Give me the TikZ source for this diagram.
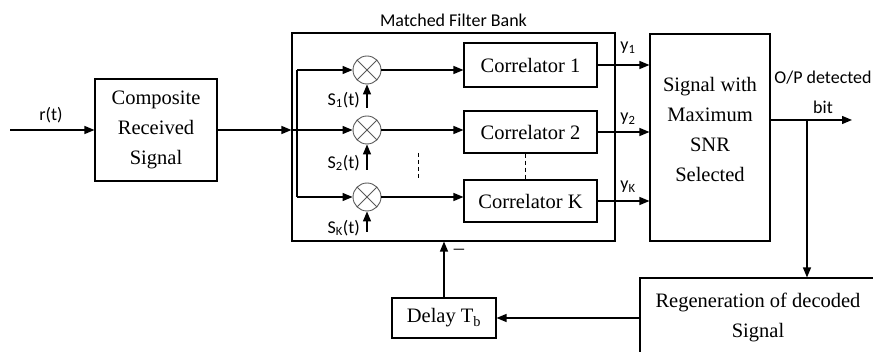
\documentclass[tikz,border=0pt]{standalone}
\usepackage{fontspec}
\setmainfont{Liberation Serif}
\newfontfamily\lblfont{Carlito}
\usetikzlibrary{arrows.meta,positioning}

\begin{document}
\begin{tikzpicture}[x=1pt, y=-1pt,
  box/.style={draw, line width=1.1pt, align=center, inner sep=0pt,
    font=\fontsize{20.5}{30}\selectfont},
  lbl/.style={font=\lblfont\fontsize{18}{30}\selectfont, inner sep=1pt},
  wire/.style={line width=1.3pt},
  arr/.style={wire, -{Triangle[length=10pt,width=8pt]}},
  dotline/.style={line width=1pt, dash pattern=on 4pt off 3pt},
  mixer/.style={circle, draw=black!65, line width=0.9pt, minimum size=28pt,
    inner sep=0pt,
    path picture={\draw[black!65, line width=0.9pt]
      (path picture bounding box.north west) -- (path picture bounding box.south east)
      (path picture bounding box.north east) -- (path picture bounding box.south west);}},
]
\useasboundingbox (0,0) rectangle (873,352);
\clip (0,0) rectangle (873,352);

% ── Entrada ───────────────────────────────────────────────────
\coordinate (rin) at (10,130);
\node[box, minimum width=122pt, minimum height=102pt] (comp) at (156,130)
    {Composite\\Received\\Signal};
\node[lbl] (rlbl) at (51,115) {r(t)};
\draw[arr] (rin) -- (comp);

% ── Banco de filtros ──────────────────────────────────────────
\node[draw, line width=1.1pt, minimum width=323pt, minimum height=208pt,
      inner sep=0pt] (bank) at (453.5,137) {};
\node[lbl, above=5pt of bank] (title) {Matched Filter Bank};

\coordinate (split) at (297,130);
\draw[arr]  (comp.east) -- (comp.east -| bank.west);
\draw[wire] (comp.east -| bank.west) -- (split);

% multiplicadores
\node[mixer] (m1) at (367,70)  {};
\node[mixer] (m2) at (367,130) {};
\node[mixer] (mK) at (367,197) {};

\draw[wire] (split |- m1) -- (split |- mK);
\draw[arr]  (split |- m1) -- (m1);
\draw[arr]  (split |- m2) -- (m2);
\draw[arr]  (split |- mK) -- (mK);

% senales de referencia
\coordinate (s1in) at (367,108);
\coordinate (s2in) at (367,170);
\coordinate (sKin) at (367,232);
\draw[arr] (s1in) -- (m1);
\draw[arr] (s2in) -- (m2);
\draw[arr] (sKin) -- (mK);
\node[lbl, anchor=east] (s1) at (361,100) {S\textsubscript{1}(t)};
\node[lbl, anchor=east] (s2) at (361,163) {S\textsubscript{2}(t)};
\node[lbl, anchor=east] (sK) at (361,228) {S\textsubscript{K}(t)};

% correladores
\node[box, minimum width=133pt, minimum height=44pt] (c1) at (530.5,65)  {Correlator 1};
\node[box, minimum width=133pt, minimum height=42pt] (c2) at (530.5,132) {Correlator 2};
\node[box, minimum width=133pt, minimum height=42pt] (cK) at (530.5,201) {Correlator K};

\draw[arr] (m1) -- (m1 -| c1.west);
\draw[arr] (m2) -- (m2 -| c2.west);
\draw[arr] (mK) -- (mK -| cK.west);

\draw[dotline] (418,153) -- (418,178);
\draw[dotline] ([xshift=-5pt]c2.south) -- ([xshift=-5pt]cK.north);

% ── Selector ──────────────────────────────────────────────────
\node[box, minimum width=120pt, minimum height=207pt] (sel) at (710,137.5) {};
\node[box, draw=none] (seltxt) at (710,129)
    {Signal with\\Maximum\\SNR\\Selected};

\draw[arr] (c1) -- (c1 -| sel.west);
\draw[arr] (c2) -- (c2 -| sel.west);
\draw[arr] (cK) -- (cK -| sel.west);
\node[lbl] (y1) at (628,48)  {y\textsubscript{1}};
\node[lbl] (y2) at (628,119) {y\textsubscript{2}};
\node[lbl] (yK) at (628,187) {y\textsubscript{K}};

% salida
\coordinate (out) at (852,120);
\coordinate (br)  at (807,120);
\draw[arr] (sel.east |- out) -- (out);
\node[lbl, align=center] (oplbl) at (823,92) {O/P detected\\bit};

% ── Realimentacion ────────────────────────────────────────────
\node[box, minimum width=236pt, minimum height=78pt] (regen) at (758,317)
    {Regeneration of decoded\\Signal};
\node[box, minimum width=104pt, minimum height=40pt] (delay) at (444,318)
    {Delay T\textsubscript{b}};

\draw[arr] (br) -- (br |- regen.north);
\draw[arr] (regen.west |- delay) -- (delay);
\draw[arr] (delay) -- (delay |- bank.south);
\node[box, draw=none] (minus) at (459,252) {\textendash};

\end{tikzpicture}
\end{document}
